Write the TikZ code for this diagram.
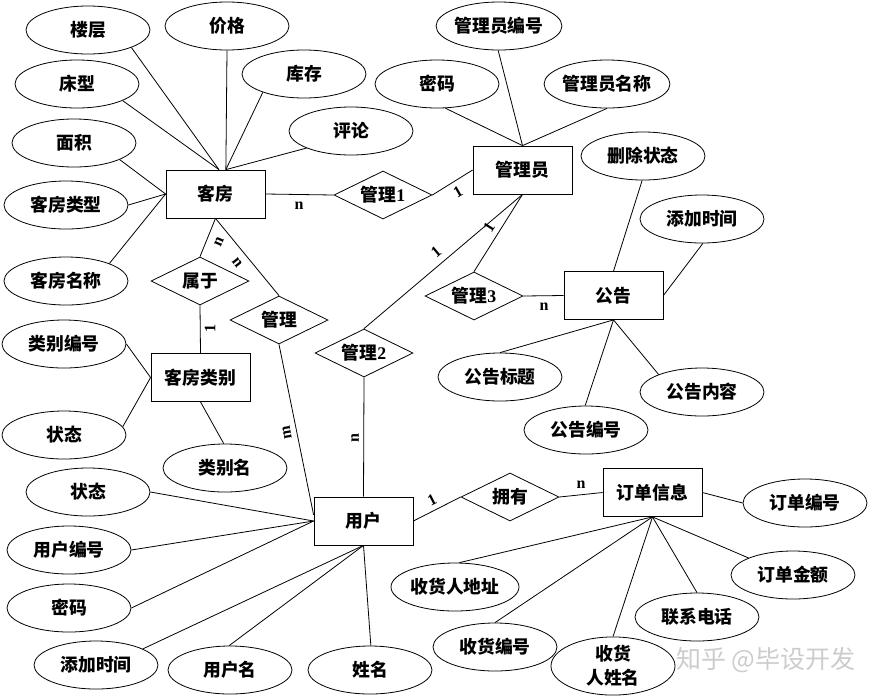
\documentclass[tikz,border=0pt]{standalone}
\usepackage{fontspec}
\setmainfont{Liberation Serif}
\newfontfamily\cjk{Noto Sans CJK SC}
\usetikzlibrary{shapes.geometric}
\newcommand\cjkf{\cjk\bfseries\fontsize{17.8}{21}\selectfont}
\newcommand\cardf{\rmfamily\bfseries\fontsize{16}{16}\selectfont}
\newcommand\dg[1]{{\rmfamily\bfseries #1}}
\tikzset{
 attr/.style={draw, ellipse, minimum width=124, minimum height=48, inner sep=0pt, font=\cjkf, align=center},
 ent/.style={draw, rectangle, minimum width=99, minimum height=48, inner sep=0pt, font=\cjkf},
 rel/.style={draw, diamond, aspect=2, minimum width=98, minimum height=48, inner sep=0pt, font=\cjkf},
 card/.style={font=\cardf, inner sep=0pt},
}
\begin{document}
\begin{tikzpicture}[x=1pt, y=-1pt, line width=0.8pt]
\useasboundingbox (0,0) rectangle (885,697);
% entities
\node[ent] (kefang) at (215.5,194) {客房};
\node[ent] (gly) at (522.5,170) {管理员};
\node[ent] (gonggao) at (613.5,295.5) {公告};
\node[ent] (leibie) at (200.5,377.5) {客房类别};
\node[ent] (yonghu) at (363.5,521) {用户};
\node[ent] (dingdan) at (652.5,492.5) {订单信息};
% relations
\node[rel] (gl1) at (383,195) {管理\dg{1}};
\node[rel] (gl3) at (474,296) {管理\dg{3}};
\node[rel] (shuyu) at (200,281) {属于};
\node[rel] (gl) at (279,320) {管理};
\node[rel] (gl2) at (364,353) {管理\dg{2}};
\node[rel] (yongyou) at (510,497) {拥有};
% attributes of kefang
\node[attr] (louceng) at (88,30) {楼层};
\node[attr] (jiage) at (227,26) {价格};
\node[attr] (kucun) at (304,74) {库存};
\node[attr] (chuangxing) at (77,84) {床型};
\node[attr] (pinglun) at (351,131) {评论};
\node[attr] (mianji) at (74,143) {面积};
\node[attr] (kflx) at (66,205) {客房类型};
\node[attr] (kfmc) at (66,281) {客房名称};
% attributes of gly
\node[attr] (glybh) at (499,26) {管理员编号};
\node[attr] (glymm) at (437,84) {密码};
\node[attr] (glymc) at (607,84) {管理员名称};
% attributes of gonggao
\node[attr] (sczt) at (643,156) {删除状态};
\node[attr] (ggtj) at (702,219) {添加时间};
\node[attr] (ggbt) at (500,377) {公告标题};
\node[attr] (ggbh) at (586,430) {公告编号};
\node[attr] (ggnr) at (702,392) {公告内容};
% attributes of leibie
\node[attr] (lbbh) at (64,344) {类别编号};
\node[attr] (lbzt) at (64,435) {状态};
\node[attr] (lbm) at (225,468) {类别名};
% attributes of yonghu
\node[attr] (yhzt) at (88,492) {状态};
\node[attr] (yhbh) at (69,550) {用户编号};
\node[attr] (yhmm) at (69,608) {密码};
\node[attr] (yhtj) at (96,665) {添加时间};
\node[attr] (yhm) at (230,670) {用户名};
\node[attr] (xm) at (370,670) {姓名};
% attributes of dingdan
\node[attr] (ddbh) at (805,503) {订单编号};
\node[attr] (ddje) at (793,575) {订单金额};
\node[attr] (lxdh) at (697,617) {联系电话};
\node[attr, minimum width=128] (shrdz) at (455,587) {收货人地址};
\node[attr] (shbh) at (495,647) {收货编号};
\node[attr, font=\cjk\bfseries\fontsize{17.8}{24}\selectfont] (shrxm) at (613,666) {收货\\人姓名};
% connectors: kefang attributes
\draw (louceng.-22) -- (kefang.82);
\draw (chuangxing.-20) -- (kefang.82);
\draw (jiage.-90) -- (kefang.67);
\draw (kucun.204) -- (kefang.67);
\draw (pinglun.201) -- (kefang.67);
\draw (mianji.-20) -- (kefang.west);
\draw (kflx.east) -- (kefang.west);
\draw (kfmc.22) -- (kefang.west);
% kefang relations
\draw (kefang.east) -- (gl1.west);
\draw (gl1.east) -- (gly.west);
\draw (kefang.south) -- (shuyu.north);
\draw (kefang.south) -- (gl.north);
\draw (shuyu.south) -- (leibie.north);
% gly attributes
\draw (glybh.-92) -- (gly.north);
\draw (glymm.-71) -- (gly.north);
\draw (glymc.-90) -- (gly.north);
% gly relations
\draw (gly.south) -- (gl3.north);
\draw (gly.south) -- (gl2.north);
\draw (gl3.east) -- (gonggao.west);
% gonggao attributes
\draw (sczt.-92) -- (gonggao.north);
\draw (ggtj.-88) -- (gonggao.east);
\draw (ggbt.90) -- (gonggao.south);
\draw (ggbh.92) -- (gonggao.south);
\draw (ggnr.158) -- (gonggao.south);
% leibie attributes
\draw (lbbh.east) -- (leibie.west);
\draw (lbzt.8) -- (leibie.west);
\draw (lbm.93) -- (leibie.south);
% yonghu relations
\draw (gl.south) -- (yonghu.173);
\draw (gl2.south) -- (yonghu.north);
\draw (yonghu.east) -- (yongyou.west);
\draw (yongyou.east) -- (dingdan.west);
% yonghu attributes
\draw (yhzt.east) -- (yonghu.west);
\draw (yhbh.east) -- (yonghu.west);
\draw (yhmm.east) -- (yonghu.west);
\draw (yhtj.19) -- (yonghu.south);
\draw (yhm.92) -- (yonghu.south);
\draw (xm.88) -- (yonghu.south);
% dingdan attributes
\draw (ddbh.west) -- (dingdan.east);
\draw (shrdz.80) -- (dingdan.south);
\draw (shbh.90) -- (dingdan.south);
\draw (shrxm.90) -- (dingdan.south);
\draw (lxdh.90) -- (dingdan.south);
\draw (ddje.159) -- (dingdan.south);
% cardinalities
\node[card] (c1) at (299,206) {n};
\node[card, rotate=30] (c2) at (458,192) {1};
\node[card, rotate=58] (c3) at (489,227) {1};
\node[card, rotate=40] (c4) at (436,252) {1};
\node[card] (c5) at (544,307) {n};
\node[card, rotate=66] (c6) at (219,242) {n};
\node[card, rotate=-52] (c7) at (237,263) {n};
\node[card, rotate=90] (c8) at (210,328) {1};
\node[card, rotate=100] (c9) at (287,433) {m};
\node[card, rotate=90] (c10) at (355,438) {n};
\node[card, rotate=27] (c11) at (432,500) {1};
\node[card] (c12) at (581,485) {n};
% watermark
\node[text=gray!40, font=\cjk\fontsize{25}{25}\selectfont, inner sep=0pt] (wm) at (766,660) {知乎 @毕设开发};
\end{tikzpicture}
\end{document}
